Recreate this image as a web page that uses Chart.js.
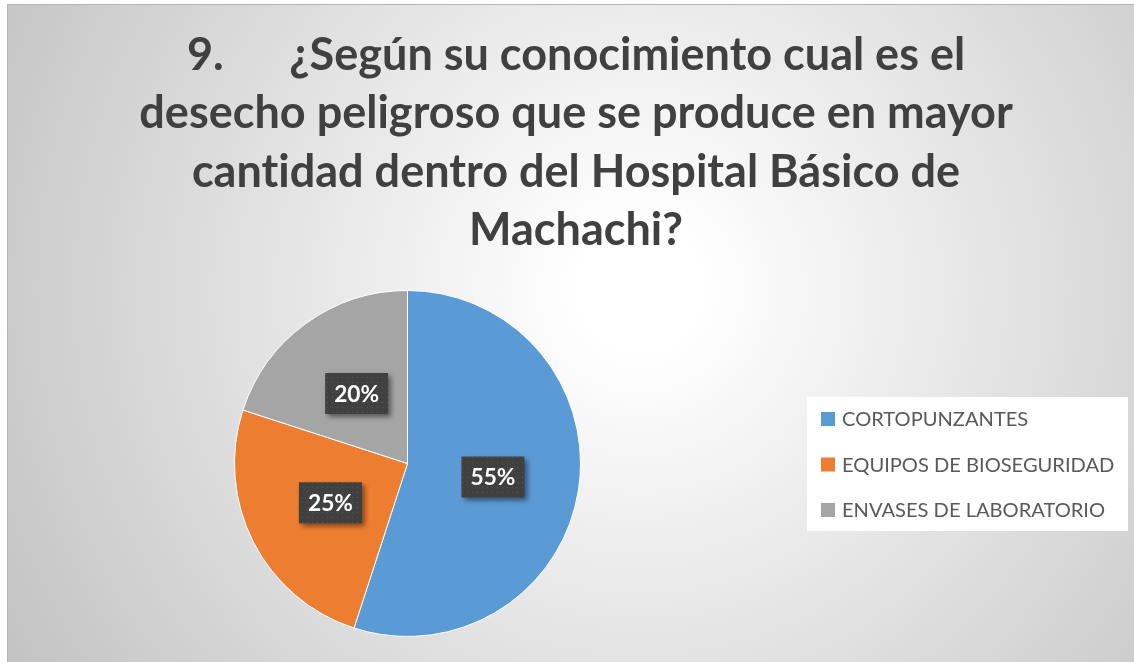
<!DOCTYPE html>
<html lang="es">
<head>
<meta charset="UTF-8">
<title>Desecho peligroso - Hospital Básico de Machachi</title>
<style>
  html,body{margin:0;padding:0;background:#fff}
  #wrap{width:1134px;height:662px}
</style>
</head>
<body>
<div id="wrap"><canvas id="grafico" width="1134" height="662"></canvas></div>

<script src="https://cdn.jsdelivr.net/npm/chart.js@4.4.0"></script>
<script>
/* ---------- Datos ---------- */
const categorias = ['CORTOPUNZANTES', 'EQUIPOS DE BIOSEGURIDAD', 'ENVASES DE LABORATORIO'];
const valores    = [55, 25, 20];
const colores    = ['#5B9BD5', '#ED7D31', '#A5A5A5'];
const titulo     = [
  '9.\u00a0\u00a0\u00a0\u00a0\u00a0\u00a0¿Según su conocimiento cual es el',
  'desecho peligroso que se produce en mayor',
  'cantidad dentro del Hospital Básico de',
  'Machachi?'
];

/* ---------- Fondo, borde y título ---------- */
const fondo = {
  id:'fondo',
  beforeDraw(chart){
    const c = chart.ctx, W = chart.width, H = chart.height;
    c.save();
    c.fillStyle = '#fff'; c.fillRect(0,0,W,H);
    const g = c.createRadialGradient(640,290,60,640,290,740);
    g.addColorStop(0,'#ffffff');
    g.addColorStop(1,'#c2c2c2');
    c.fillStyle = g; c.fillRect(7,4,W-7,H-4);
    c.strokeStyle = '#b4b4b4'; c.lineWidth = 1;
    c.beginPath(); c.moveTo(7.5,H); c.lineTo(7.5,4.5); c.lineTo(W,4.5); c.stroke();

    // título, ajustado al ancho de la 2ª línea
    c.fillStyle = '#404040';
    c.textAlign = 'center'; c.textBaseline = 'alphabetic';
    if ('letterSpacing' in c) c.letterSpacing = '0.01px';   // sin ligadura "ti"
    c.font = 'bold 40px Lato';
    const k = 873 / c.measureText(titulo[1]).width;
    c.font = 'bold ' + (40*k).toFixed(1) + 'px Lato';
    const base = [70, 128, 187, 245];
    titulo.forEach((t,i)=> c.fillText(t, 576, base[i]));
    c.restore();
  }
};

/* ---------- Leyenda con caja blanca ---------- */
const leyenda = {
  id:'leyenda',
  afterDraw(chart){
    const c = chart.ctx;
    c.save();
    c.fillStyle = '#ffffff';
    c.fillRect(807, 397, 321, 134);
    c.font = '19px Lato';
    const k = 273 / c.measureText(categorias[1]).width;
    c.font = (19*k).toFixed(1) + 'px Lato';
    c.textBaseline = 'alphabetic'; c.textAlign = 'left';
    categorias.forEach((cat,i)=>{
      const y = 426 + i*45.5;
      c.fillStyle = colores[i];
      c.fillRect(821, y-14, 14, 14);
      c.fillStyle = '#595959';
      c.fillText(cat, 842, y);
    });
    c.restore();
  }
};

/* ---------- Etiquetas de porcentaje ---------- */
function patronPuntos(ctx){
  const p = document.createElement('canvas');
  p.width = 5; p.height = 5;
  const pc = p.getContext('2d');
  pc.fillStyle = '#404040'; pc.fillRect(0,0,5,5);
  pc.fillStyle = '#555555'; pc.fillRect(2,2,1,1);
  return ctx.createPattern(p,'repeat');
}

const etiquetas = {
  id:'etiquetas',
  afterDatasetsDraw(chart){
    const c = chart.ctx;
    const meta = chart.getDatasetMeta(0);
    const total = valores.reduce((a,b)=>a+b,0);
    c.save();
    c.font = 'bold 24px Lato';
    const k = 45 / c.measureText('55%').width;
    c.font = 'bold ' + (24*k).toFixed(1) + 'px Lato';
    const pat = patronPuntos(c);
    meta.data.forEach((arc,i)=>{
      const {x,y} = arc.tooltipPosition();
      const txt = Math.round(valores[i]/total*100) + '%';
      const w = 63, h = 41;
      c.save();
      c.shadowColor = 'rgba(0,0,0,0.45)';
      c.shadowBlur = 5; c.shadowOffsetX = 3; c.shadowOffsetY = 3;
      c.fillStyle = pat;
      c.fillRect(x - w/2, y - h/2, w, h);
      c.restore();
      c.fillStyle = '#ffffff';
      c.textAlign = 'center'; c.textBaseline = 'middle';
      c.fillText(txt, x, y + 1);
    });
    c.restore();
  }
};

new Chart(document.getElementById('grafico'), {
  type:'pie',
  data:{
    labels: categorias,
    datasets:[{
      data: valores,
      backgroundColor: colores,
      borderColor:'#ffffff',
      borderWidth:1
    }]
  },
  options:{
    responsive:false,
    animation:false,
    layout:{padding:{left:234, right:553, top:290, bottom:25}},
    plugins:{legend:{display:false}, tooltip:{enabled:false}}
  },
  plugins:[fondo, etiquetas, leyenda]
});
</script>
</body>
</html>
